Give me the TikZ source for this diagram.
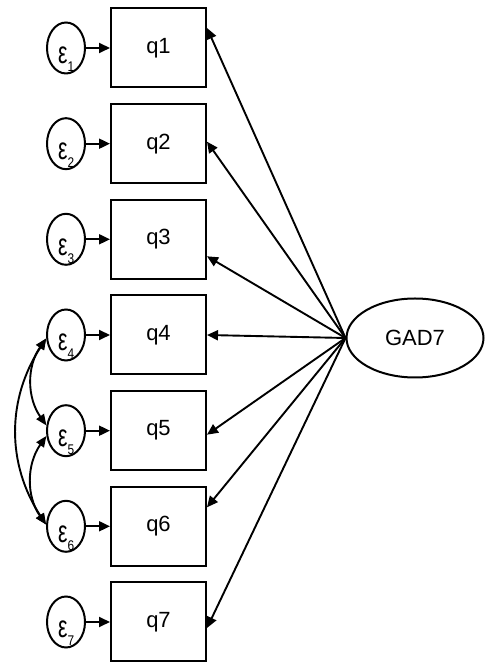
\documentclass[tikz,border=0pt]{standalone}
\usepackage{fontspec}
\setmainfont{Liberation Sans}
\usetikzlibrary{arrows.meta,calc,shapes.geometric}
\begin{document}
\begin{tikzpicture}[x=1pt,y=1pt,
  box/.style={draw,line width=2pt,minimum width=95pt,minimum height=79pt,inner sep=0pt,font=\fontsize{22}{22}\selectfont},
  err/.style={draw,ellipse,line width=2pt,minimum width=38pt,minimum height=51pt,inner sep=0pt},
  errlab/.style={anchor=base west,inner sep=0pt},
  lat/.style={draw,ellipse,line width=2pt,minimum width=137pt,minimum height=79pt,inner sep=0pt,font=\fontsize{22}{22}\selectfont},
  lnk/.style={line width=1.9pt,-{Triangle[length=11pt,width=10pt]}},
  cov/.style={line width=1.9pt,{Triangle[length=11pt,width=9pt]}-{Triangle[length=11pt,width=9pt]}}
]
\useasboundingbox (0,0) rectangle (486,663);
\node[lat] (g) at (415,325) {GAD7};
\foreach \i/\y/\d in {1/615/20, 2/519.3/2, 3/423.7/-17, 4/328/0, 5/232.3/-4, 6/136.7/19, 7/41/-6}{
  \node[box] (q\i) at (158.5,\y) {q\i};
  \node[err] (e\i) at (66,\y) {};
  \node[errlab] (t\i) at ($(e\i.center)+(-8,-16)$) {\scalebox{0.68}[1]{\fontsize{31}{31}\selectfont ε}\raisebox{-8pt}{\scalebox{0.85}[1]{\fontsize{14}{14}\selectfont \i}}};
  \draw[lnk] (e\i.east) -- (q\i.west);
  \draw[lnk] (g.west) -- ([yshift=\d pt]q\i.east);
}
\draw[cov] (e4.190) to[out=235,in=125] (e5.165);
\draw[cov] (e5.195) to[out=235,in=125] (e6.175);
\draw[cov] (e4.190) to[out=237,in=123] (e6.175);
\end{tikzpicture}
\end{document}
